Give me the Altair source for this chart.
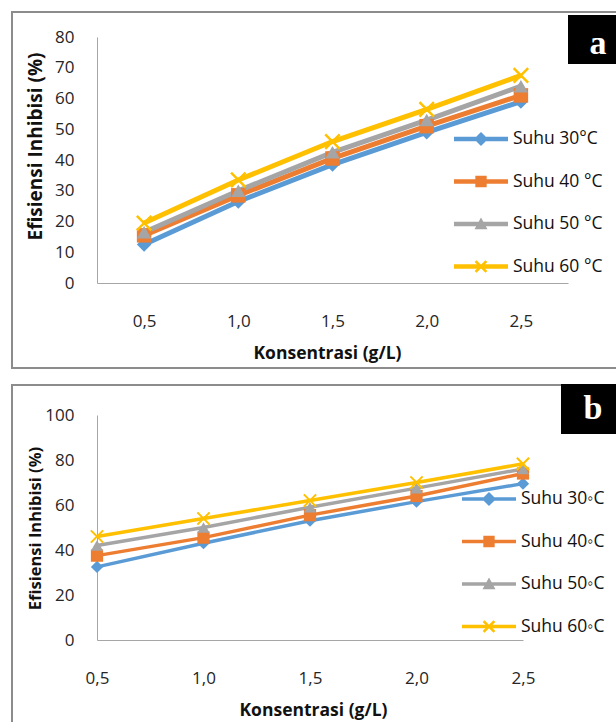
import altair as alt
import pandas as pd

# ---------------- data ----------------
konsentrasi = ["0,5", "1,0", "1,5", "2,0", "2,5"]

suhu_a = ["\u00a0Suhu 30°C", "Suhu 40 °C", "Suhu 50 °C", "Suhu 60 °C"]
a_30 = [12.5, 26.5, 38.5, 49.0, 59.0]
a_40 = [15.5, 28.5, 40.5, 51.0, 61.0]
a_50 = [16.5, 30.0, 42.5, 53.0, 64.0]
a_60 = [19.5, 33.5, 46.0, 56.5, 67.5]

suhu_b = ["Suhu 30\u25e6C", "Suhu 40\u25e6C", "Suhu 50\u25e6C", "Suhu 60\u25e6C"]
b_30 = [32.5, 43.0, 53.0, 61.5, 69.5]
b_40 = [37.5, 45.5, 55.5, 64.0, 74.0]
b_50 = [42.0, 50.0, 59.0, 67.5, 76.0]
b_60 = [46.0, 54.0, 62.0, 70.0, 78.3]

colors = ["#5B9BD5", "#ED7D31", "#A5A5A5", "#FFC000"]

FONT = "Open Sans"


def long_df(names, series):
    rows = []
    for name, vals in zip(names, series):
        for k, v in zip(konsentrasi, vals):
            rows.append({"k": k, "v": v, "s": name})
    return pd.DataFrame(rows)


df_a = long_df(suhu_a, [a_30, a_40, a_50, a_60])
df_b = long_df(suhu_b, [b_30, b_40, b_50, b_60])


# ---------------- symbol paths ----------------
def fmt(pts):
    return "M" + "L".join(f"{x:.3f},{y:.3f}" for x, y in pts) + "Z"


def diamond(k):
    return fmt([(0, -k), (k, 0), (0, k), (-k, 0)])


def square(k):
    return fmt([(-k, -k), (k, -k), (k, k), (-k, k)])


def triangle(k):
    return fmt([(0, -k), (k, 0.8 * k), (-k, 0.8 * k)])


def xmark(k, d):
    r1 = [(-k + d, -k - d), (k + d, k - d), (k - d, k + d), (-k - d, -k + d)]
    r2 = [(-k - d, k - d), (k - d, -k - d), (k + d, -k + d), (-k + d, k + d)]
    return fmt(r1) + " " + fmt(r2)


def hline(t):
    return fmt([(-1, -t), (1, -t), (1, t), (-1, t)])


point_shapes = ["diamond", "square", "triangle-up", xmark(1.0, 0.12)]


def legend_shapes(t):
    line = hline(t)
    return [
        line + " " + diamond(0.26),
        line + " " + square(0.21),
        line + " " + triangle(0.24),
        line + " " + xmark(0.2, 0.035),
    ]


# ---------------- panel builder ----------------
def panel(df, names, xrange, xpad, ydom, yvals, yrange, x_axis_off, y_title_y,
          x_title_x, title_size, lw, psize, leg_x, leg_y, leg_t):
    xs = alt.Scale(type="point", domain=konsentrasi, range=xrange, padding=xpad)
    ys = alt.Scale(domain=ydom, range=yrange, nice=False, zero=True)
    cs = alt.Scale(domain=names, range=colors)

    x_axis = alt.Axis(
        orient="bottom", offset=x_axis_off, ticks=False, grid=False,
        labelPadding=30, labelFont=FONT, labelFontSize=17, labelColor="#262626",
        labelAngle=0, domainColor="#a6a6a6", domainWidth=1,
        title="Konsentrasi (g/L)", titleFont=FONT, titleFontSize=17.5,
        titleFontWeight="bold", titleColor="#111", titleX=x_title_x, titleY=70,
        titleBaseline="middle", titleAlign="center",
    )
    y_axis = alt.Axis(
        orient="left", offset=-97, ticks=False, grid=False, values=yvals,
        labelPadding=23, labelFont=FONT, labelFontSize=17, labelColor="#262626",
        domainColor="#a6a6a6", domainWidth=1,
        title="Efisiensi Inhibisi (%)", titleFont=FONT, titleFontSize=title_size,
        titleFontWeight="bold", titleColor="#111", titleX=-62, titleY=y_title_y,
        titleBaseline="middle", titleAlign="center", titleAngle=270,
    )

    base = alt.Chart(df)
    lines = base.mark_line(strokeWidth=lw).encode(
        x=alt.X("k:O", scale=xs, axis=x_axis, sort=konsentrasi),
        y=alt.Y("v:Q", scale=ys, axis=y_axis),
        color=alt.Color("s:N", scale=cs, legend=None),
        detail="s:N",
    )
    pts = base.mark_point(filled=True, opacity=1, size=psize, strokeWidth=0).encode(
        x=alt.X("k:O", scale=xs, axis=None, sort=konsentrasi),
        y=alt.Y("v:Q", scale=ys, axis=None),
        color=alt.Color("s:N", scale=cs, legend=None),
        shape=alt.Shape("s:N", scale=alt.Scale(domain=names, range=point_shapes), legend=None),
    )
    # legend provider: no marks drawn (filtered out), scales with explicit domains
    leg = base.transform_filter("datum.v < -1000").mark_point(
        filled=True, size=psize, opacity=1).encode(
        x=alt.X("k:O", scale=xs, axis=None, sort=konsentrasi),
        y=alt.Y("v:Q", scale=ys, axis=None),
        color=alt.Color("s:N", scale=cs, legend=alt.Legend(
            title=None, orient="none", legendX=leg_x, legendY=leg_y,
            symbolSize=2916, symbolOpacity=1, symbolStrokeWidth=0,
            labelFont=FONT, labelFontSize=17.5, labelColor="#111",
            labelOffset=5, rowPadding=6.5, padding=0, labelLimit=200,
        )),
        shape=alt.Shape("s:N", scale=alt.Scale(domain=names, range=legend_shapes(leg_t))),
    )
    return [lines, pts, leg]


dummy = alt.Chart(pd.DataFrame({"d": [0]}))

frame_a = dummy.mark_rect(fill="white", fillOpacity=0, stroke="#8c8c8c", strokeWidth=2).encode(
    x=alt.value(12), x2=alt.value(640), y=alt.value(12), y2=alt.value(368))
frame_b = dummy.mark_rect(fill="white", fillOpacity=0, stroke="#8c8c8c", strokeWidth=2).encode(
    x=alt.value(12), x2=alt.value(640), y=alt.value(385), y2=alt.value(760))
box_a = dummy.mark_rect(color="black").encode(
    x=alt.value(568), x2=alt.value(616), y=alt.value(15), y2=alt.value(64))
box_b = dummy.mark_rect(color="black").encode(
    x=alt.value(561), x2=alt.value(616), y=alt.value(384), y2=alt.value(434))
txt_a = dummy.mark_text(text="a", font="Liberation Serif", fontWeight="bold", fontSize=34,
                        color="white", align="center", baseline="middle").encode(
    x=alt.value(598), y=alt.value(44))
txt_b = dummy.mark_text(text="b", font="Liberation Serif", fontWeight="bold", fontSize=34,
                        color="white", align="center", baseline="middle").encode(
    x=alt.value(593), y=alt.value(409))

layers_a = panel(df_a, suhu_a, [97, 568], 0.5, [0, 80], list(range(0, 81, 10)), [283, 37],
                 283 - 722, 146, 327, 19, 5, 210, 454, 112, 0.085)
layers_b = panel(df_b, suhu_b, [97, 523], 0.0, [0, 100], list(range(0, 101, 20)), [640, 415],
                 640 - 722, 528, 313, 16.5, 3.5, 150, 462, 472, 0.065)

chart = alt.layer(
    frame_a, frame_b, *layers_a, *layers_b, box_a, box_b, txt_a, txt_b
).resolve_scale(
    x="independent", y="independent", color="independent", shape="independent"
).properties(
    width=616, height=722, padding=0, autosize=alt.AutoSizeParams(type="none")
).configure_view(strokeWidth=0)

chart.save("out.html", embed_options={"renderer": "svg", "actions": False})
